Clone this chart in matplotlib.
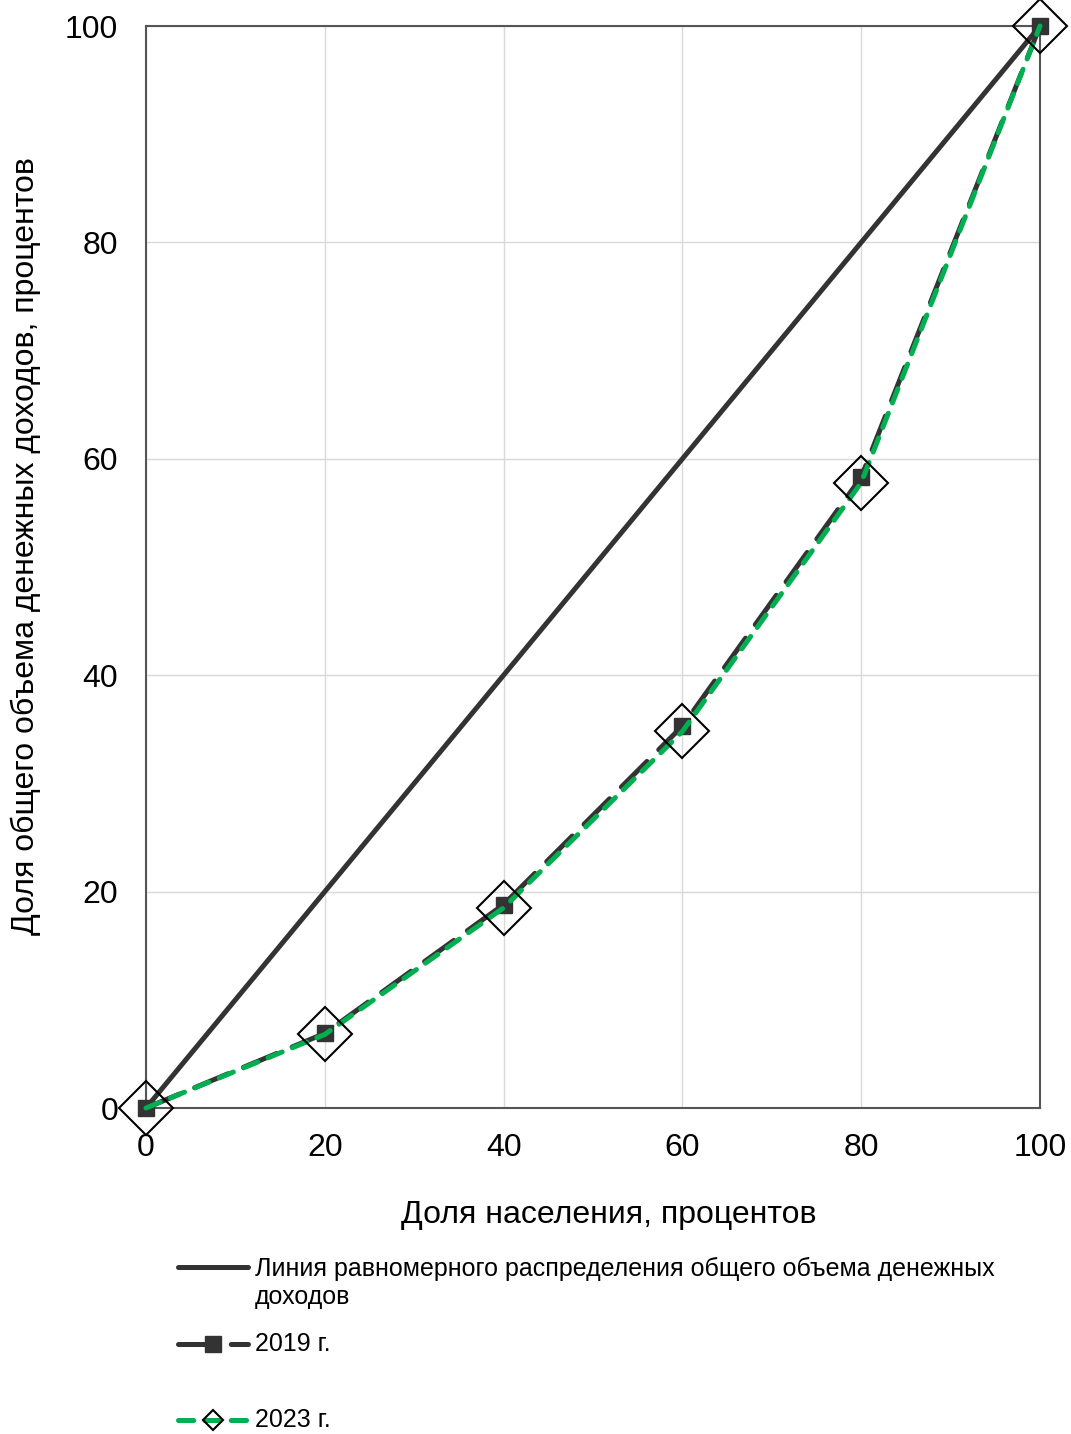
import matplotlib
matplotlib.use("Agg")
from matplotlib import pyplot as plt
from matplotlib.lines import Line2D

plt.rcParams['font.family'] = ['Liberation Sans', 'DejaVu Sans']
plt.rcParams['lines.scale_dashes'] = False

# population share (x) and cumulative income share (y), percent
population = [0, 20, 40, 60, 80, 100]
equality = [0, 20, 40, 60, 80, 100]
income_2019 = [0, 6.9, 18.8, 35.3, 58.3, 100]
income_2023 = [0, 6.8, 18.5, 34.8, 57.8, 100]

labels = ["Линия равномерного распределения общего объема денежных\nдоходов",
          "2019 г.", "2023 г."]

dark = "#333333"
green = "#00B050"
W, H = 1071, 1434

fig = plt.figure(figsize=(W / 100, H / 100), dpi=100)
ax = fig.add_axes([146 / W, 1 - 1108 / H, (1040 - 146) / W, (1108 - 26) / H])

style_eq = dict(color=dark, lw=3.6, solid_capstyle="round")
style_19 = dict(color=dark, lw=3.6, linestyle=(0, (26, 12)), dash_capstyle="round",
                marker="s", markerfacecolor=dark, markeredgecolor=dark)
style_23 = dict(color=green, lw=3.6, linestyle=(0, (11, 8)), dash_capstyle="round",
                marker="D", markerfacecolor="none", markeredgecolor="black",
                markeredgewidth=1.5)

ax.plot(population, equality, zorder=3, clip_on=False, **style_eq)
ax.plot(population, income_2019, markersize=11, zorder=4, clip_on=False, **style_19)
ax.plot(population, income_2023, markersize=27, zorder=5, clip_on=False, **style_23)

ax.set_xlim(0, 100)
ax.set_ylim(0, 100)
ax.set_xticks([0, 20, 40, 60, 80, 100])
ax.set_yticks([0, 20, 40, 60, 80, 100])
ax.grid(True, color="#d9d9d9", lw=1)
ax.set_axisbelow(True)
for s in ax.spines.values():
    s.set_color("#555555")
    s.set_linewidth(1.5)
ax.tick_params(length=0, labelsize=23, colors="black")
ax.tick_params(axis="x", pad=18)
ax.tick_params(axis="y", pad=20)

ax.set_xlabel("Доля населения, процентов", fontsize=23)
ax.set_ylabel("Доля общего объема денежных доходов, процентов", fontsize=23)
ax.xaxis.set_label_coords(0.518, -0.085)
ax.yaxis.set_label_coords(-0.118, 0.519)

# legend below the plot, laid out like the original
rows = [1267, 1344, 1420]
x0, xm, x1 = 178 / W, 213 / W, 248 / W
handles = [
    Line2D([x0, x1], [1 - rows[0] / H] * 2, **style_eq),
    Line2D([x0, xm, x1], [1 - rows[1] / H] * 3, markersize=11, markevery=[1], **style_19),
    Line2D([x0, xm, x1], [1 - rows[2] / H] * 3, markersize=10, markevery=[1], **style_23),
]
for h, r, lab in zip(handles, rows, labels):
    h.set_transform(fig.transFigure)
    fig.add_artist(h)
    fig.text(255 / W, 1 - r / H, lab, fontsize=18, ha="left", va="top" if "\n" in lab else "center",
             linespacing=1.2)
# first label is two lines: shift so that first line centres on the handle
fig.texts[0].set_y(1 - (rows[0] - 10) / H)

fig.savefig("out.png", dpi=100)
